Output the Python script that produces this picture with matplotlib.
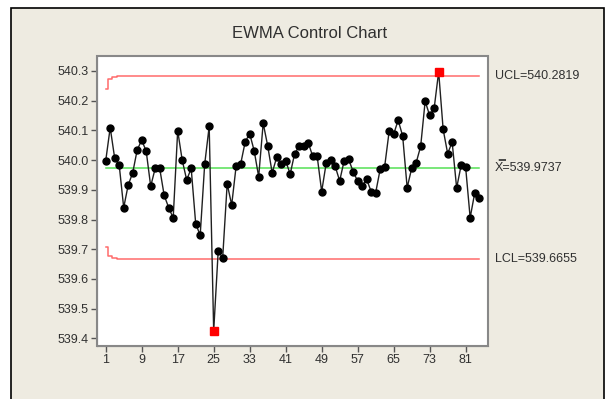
import matplotlib.pyplot as plt
from matplotlib.patches import Rectangle
from matplotlib.transforms import blended_transform_factory

plt.rcParams['font.family'] = ['Liberation Sans', 'DejaVu Sans']

# EWMA values
ewma = [539.997, 540.109, 540.006, 539.983, 539.840, 539.916, 539.957, 540.034,
        540.067, 540.030, 539.912, 539.972, 539.972, 539.881, 539.840, 539.805,
        540.099, 540.000, 539.933, 539.972, 539.786, 539.747, 539.986, 540.113,
        539.425, 539.693, 539.672, 539.920, 539.849, 539.981, 539.987, 540.061,
        540.089, 540.031, 539.944, 540.124, 540.048, 539.957, 540.009, 539.986,
        539.997, 539.953, 540.022, 540.046, 540.048, 540.059, 540.013, 540.013,
        539.894, 539.989, 540.000, 539.979, 539.930, 539.998, 540.002, 539.961,
        539.929, 539.913, 539.935, 539.894, 539.890, 539.969, 539.978, 540.097,
        540.087, 540.134, 540.081, 539.907, 539.972, 539.991, 540.046, 540.198,
        540.150, 540.174, 540.297, 540.103, 540.022, 540.060, 539.906, 539.983,
        539.975, 539.806, 539.888, 539.872]
samples = list(range(1, len(ewma) + 1))

center = 539.9737
ucl_value = 540.2819
lcl_value = 539.6655
# limits widen over the first few samples
ucl_start = [540.240, 540.272, 540.280]
lcl_start = [539.707, 539.677, 539.670]
ucl = ucl_start + [ucl_value] * (len(ewma) - len(ucl_start))
lcl = lcl_start + [lcl_value] * (len(ewma) - len(lcl_start))

xticks = [1, 9, 17, 25, 33, 41, 49, 57, 65, 73, 81]
yticks = [539.4, 539.5, 539.6, 539.7, 539.8, 539.9, 540.0, 540.1, 540.2, 540.3]

bg = '#EEEBE1'
fig = plt.figure(figsize=(6.08, 3.99), dpi=100, facecolor='white')
frame = Rectangle((11 / 608, -0.05), 593 / 608, 1 - 8 / 399 + 0.05,
                  transform=fig.transFigure, facecolor=bg,
                  edgecolor='black', linewidth=1.2, zorder=-10)
fig.add_artist(frame)

ax = fig.add_axes([96.7 / 608, 1 - 346 / 399, 391 / 608, 290.3 / 399])
ax.set_facecolor('white')

ax.plot(samples, ucl, drawstyle='steps-mid', color='#FF6B6B', lw=1.1)
ax.plot(samples, lcl, drawstyle='steps-mid', color='#FF6B6B', lw=1.1)
ax.plot([samples[0], samples[-1]], [center, center], color='#55E055', lw=1.1)

ax.plot(samples, ewma, color='#202020', lw=1.0, marker='o', ms=5,
        mfc='black', mec='black', zorder=3)

out_x = [s for s, v, u, l in zip(samples, ewma, ucl, lcl) if v > u or v < l]
out_y = [v for s, v, u, l in zip(samples, ewma, ucl, lcl) if v > u or v < l]
ax.plot(out_x, out_y, ls='none', marker='s', ms=5.5, mfc='red', mec='red', zorder=4)

ax.set_xlim(-1, 85.9)
ax.set_ylim(539.3745, 540.351)
ax.set_xticks(xticks)
ax.set_yticks(yticks)
ax.set_yticklabels([f'{t:.1f}' for t in yticks])
ax.tick_params(direction='out', length=4, width=1, color='#555555',
               labelsize=9, labelcolor='#303030', pad=2)
for side in ['top', 'right']:
    ax.spines[side].set_visible(False)
for side in ['left', 'bottom']:
    ax.spines[side].set_color('#777777')
ax.add_patch(Rectangle((0, 0), 1, 1, transform=ax.transAxes, fill=False,
                       edgecolor='#888888', lw=1.5, zorder=5, clip_on=False))

trans = blended_transform_factory(ax.transAxes, ax.transData)
ax.text(1.018, ucl_value, 'UCL=540.2819', transform=trans, va='center',
        ha='left', fontsize=9, color='#303030')
ax.text(1.018, center, 'X\u033f=539.9737', transform=trans, va='center',
        ha='left', fontsize=9, color='#303030')
ax.text(1.018, lcl_value, 'LCL=539.6655', transform=trans, va='center',
        ha='left', fontsize=9, color='#303030')

fig.text(310 / 608, 1 - 33 / 399, 'EWMA Control Chart', ha='center',
         va='center', fontsize=12, color='#303030')

fig.savefig('out.png', dpi=100, facecolor=fig.get_facecolor())
